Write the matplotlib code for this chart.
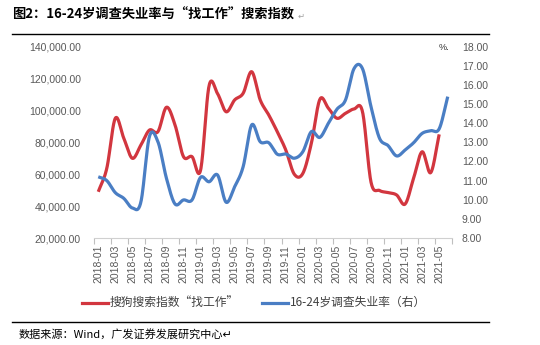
import numpy as np
import matplotlib
matplotlib.use("Agg")
import matplotlib.pyplot as plt
from matplotlib.ticker import FixedLocator, FuncFormatter

plt.rcParams["font.family"] = ["Liberation Sans", "Noto Sans CJK SC", "DejaVu Sans"]

# Monthly categories 2018-01 .. 2021-06
months = [f"{y}-{m:02d}" for y in range(2018, 2022) for m in range(1, 13)][:42]

# Sogou search index for "找工作" (left axis), 2018-01 .. 2021-05
search_index = [49000, 63700, 95100, 82500, 70000, 78300, 87700, 86700, 102000, 91000,
                71000, 71000, 62500, 115500, 110500, 99200, 106600, 110800, 124300, 106600,
                97200, 86700, 75200, 60000, 60500, 79400, 107000, 101400, 95100, 98200,
                100900, 99200, 55000, 49800, 48500, 47000, 41300, 57600, 74100, 61000,
                85000]

# Surveyed unemployment rate, age 16-24, % (right axis), 2018-01 .. 2021-06
unemployment = [11.2, 11.0, 10.37, 10.07, 9.57, 9.88, 13.3, 13.03, 11.12, 9.78,
                9.99, 9.99, 11.17, 10.94, 11.29, 9.87, 10.68, 11.73, 13.91, 13.03,
                12.98, 12.38, 12.39, 12.17, 12.51, 13.56, 13.26, 14.0, 14.73, 15.21,
                16.85, 16.85, 14.86, 13.21, 12.83, 12.29, 12.6, 12.98, 13.47, 13.61,
                13.71, 15.39]

left_ticks = [20000, 40000, 60000, 80000, 100000, 120000, 140000]
right_ticks = [8, 9, 10, 11, 12, 13, 14, 15, 16, 17, 18]

RED = "#D2363F"
BLUE = "#4A7EC4"
GREY = "#595959"


def smooth(values, n=20):
    """Catmull-Rom spline through the points (Excel-style smoothed line)."""
    y = np.asarray(values, dtype=float)
    x = np.arange(len(y), dtype=float)
    xp = np.concatenate([[2 * x[0] - x[1]], x, [2 * x[-1] - x[-2]]])
    yp = np.concatenate([[2 * y[0] - y[1]], y, [2 * y[-1] - y[-2]]])
    xs, ys = [], []
    t = np.linspace(0, 1, n, endpoint=False)
    for i in range(1, len(xp) - 2):
        p0, p1, p2, p3 = yp[i - 1], yp[i], yp[i + 1], yp[i + 2]
        q0, q1, q2, q3 = xp[i - 1], xp[i], xp[i + 1], xp[i + 2]
        f = lambda a, b, c, d: 0.5 * ((2 * b) + (-a + c) * t
                                      + (2 * a - 5 * b + 4 * c - d) * t ** 2
                                      + (-a + 3 * b - 3 * c + d) * t ** 3)
        xs.append(f(q0, q1, q2, q3))
        ys.append(f(p0, p1, p2, p3))
    xs.append([x[-1]])
    ys.append([y[-1]])
    return np.concatenate(xs), np.concatenate(ys)


fig = plt.figure(figsize=(5.4, 3.45), dpi=100)
ax = fig.add_axes([94 / 540, 1 - 238 / 345, (452 - 94) / 540, (238 - 46.7) / 345])
ax2 = ax.twinx()

sx, sy = smooth(search_index)
ax.plot(sx, sy, color=RED, lw=2.3, solid_capstyle="butt", zorder=3)
ux, uy = smooth(unemployment)
ax2.plot(ux, uy, color=BLUE, lw=2.3, solid_capstyle="butt", zorder=3)

ax.set_xlim(-0.5, len(months) - 0.5)
ax.set_ylim(20000, 140000)
ax2.set_ylim(8, 18)

ax.yaxis.set_major_locator(FixedLocator(left_ticks))
ax.yaxis.set_major_formatter(FuncFormatter(lambda v, p: f"{v:,.2f}"))
ax2.yaxis.set_major_locator(FixedLocator(right_ticks))
ax2.yaxis.set_major_formatter(FuncFormatter(lambda v, p: f"{v:.2f}"))

label_pos = list(range(0, len(months), 2))
ax.set_xticks(label_pos)
ax.set_xticklabels([months[i] for i in label_pos], rotation=90)
ax.set_xticks(np.arange(-0.5, len(months), 2), minor=True)
ax.tick_params(axis="x", which="major", length=0, pad=5, labelsize=7.5, labelcolor=GREY)
ax.tick_params(axis="x", which="minor", length=4, width=0.8, color="#BFBFBF")
ax.tick_params(axis="y", length=0, pad=9.5, labelsize=7.5, labelcolor=GREY)
ax2.tick_params(axis="y", length=0, pad=7, labelsize=7.5, labelcolor=GREY)

for a in (ax, ax2):
    for s in ("top", "left", "right"):
        a.spines[s].set_visible(False)
ax2.spines["bottom"].set_visible(False)
ax.spines["bottom"].set_color("#D0D0D0")
ax.spines["bottom"].set_linewidth(0.8)

fig.text(439 / 540, 1 - 48 / 345, "%.", fontsize=6.5, color="#333333", va="center")

# Title, rules and source
cjk = ["Noto Sans CJK SC", "DejaVu Sans"]
fig.text(12 / 540, 1 - 15 / 345, "图2：16-24岁调查失业率与“找工作”搜索指数",
         family=cjk, fontsize=9.5, fontweight="bold", color="black", va="center")
fig.text(298 / 540, 1 - 16 / 345, "↵", family=["DejaVu Sans"], fontsize=6,
         color="#A0A0A0", va="center")
fig.add_artist(plt.Line2D([12 / 540, 489 / 540], [1 - 34 / 345, 1 - 34 / 345],
                          color="black", lw=1.0))
fig.add_artist(plt.Line2D([12 / 540, 489 / 540], [1 - 322 / 345, 1 - 322 / 345],
                          color="black", lw=1.0))
fig.text(19 / 540, 1 - 334 / 345, "数据来源：Wind，广发证券发展研究中心↵",
         family=cjk, fontsize=8, color="black", va="center")

# Legend drawn in figure coordinates
ly = 1 - 302.5 / 345
fig.add_artist(plt.Line2D([82 / 540, 108 / 540], [ly, ly], color=RED, lw=2.3))
fig.text(110 / 540, ly, "搜狗搜索指数“找工作”", family=cjk, fontsize=8.5,
         color="#404040", va="center")
fig.add_artist(plt.Line2D([262 / 540, 288 / 540], [ly, ly], color=BLUE, lw=2.3))
fig.text(290 / 540, ly, "16-24岁调查失业率（右）", family=cjk, fontsize=8.5,
         color="#404040", va="center")

fig.savefig("out.png", dpi=100)
